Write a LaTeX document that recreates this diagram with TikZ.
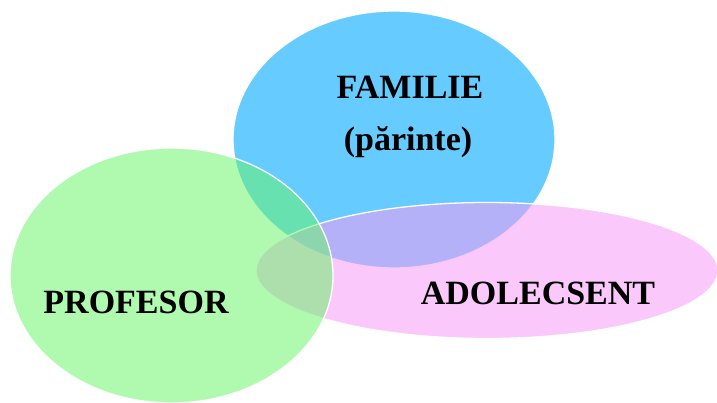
\documentclass[tikz,border=0pt]{standalone}
\usepackage{fontspec}
\setmainfont{Liberation Serif}
\definecolor{famblue}{RGB}{102,204,255}
\definecolor{adopink}{RGB}{245,155,245}
\definecolor{profgreen}{RGB}{106,245,106}
\tikzset{
  blob/.style={draw=white, line width=1.3pt},
  lbl/.style={font=\fontsize{34}{40}\selectfont\bfseries, text=black, align=center, inner sep=0pt}
}
\begin{document}
\begin{tikzpicture}[x=1pt,y=-1pt]
\useasboundingbox (0,0) rectangle (717,403);
\begin{scope}
\clip (0,0) rectangle (717,403);
\path[blob, fill=famblue] (394,139.5) ellipse [x radius=161pt, y radius=128.5pt];
\path[blob, fill=adopink, fill opacity=0.55] (487,270.5) ellipse [x radius=231pt, y radius=68pt];
\path[blob, fill=profgreen, fill opacity=0.53] (171.5,275.5) ellipse [x radius=161.5pt, y radius=127.5pt];
\end{scope}
\node[lbl] (fam) at (410,87) {FAMILIE};
\node[lbl] (par) at (408,142) {(părinte)};
\node[lbl] (prof) at (136,302) {PROFESOR};
\node[lbl] (ado) at (538,293) {ADOLECSENT};
\end{tikzpicture}
\end{document}
